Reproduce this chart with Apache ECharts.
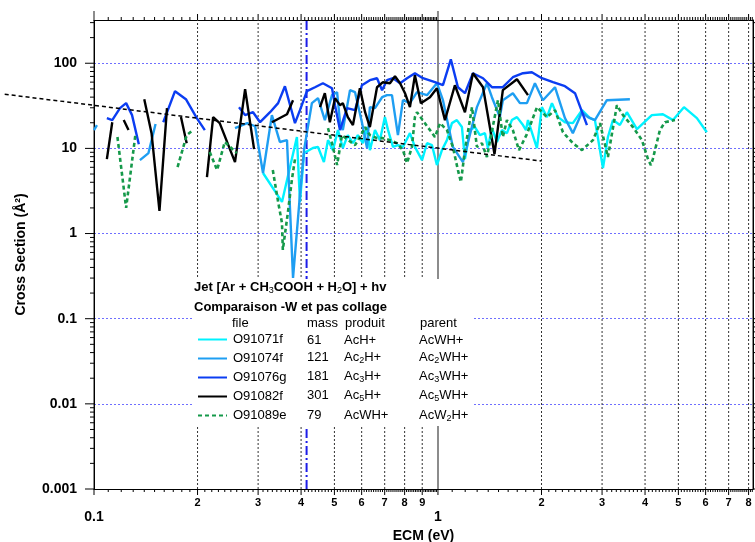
<!DOCTYPE html>
<html><head><meta charset="utf-8">
<script src="https://cdn.jsdelivr.net/npm/echarts@6/dist/echarts.min.js"></script>
<style>html,body{margin:0;padding:0;background:#fff}#c{width:755px;height:542px}</style>
</head><body><div id="c"></div>
<script>
// ---------------- data (ECM in eV, cross section in Å²) ----------------
const X_MIN = 0.1, X_MAX = 8.24, Y_MIN = 0.001, Y_MAX = 322;

const xMajorValues = [0.1, 1];
const xMajorLabels = ['0.1', '1'];
const xMinorValues = [0.2,0.3,0.4,0.5,0.6,0.7,0.8,0.9,2,3,4,5,6,7,8];
const xMinorLabels = ['2','3','4','5','6','7','8','9','2','3','4','5','6','7','8'];
const yMajorValues = [0.001, 0.01, 0.1, 1, 10, 100];
const yMajorLabels = ['0.001', '0.01', '0.1', '1', '10', '100'];

const seriesNames = ['O91071f', 'O91074f', 'O91076g', 'O91082f', 'O91089e'];

const cyanPts = [[0.310,5.14],[0.352,2.35],[0.389,13.6],[0.397,2.35],[0.408,8.81],[0.433,10.1],[0.448,10.4],[0.466,6.91],[0.479,12.5],[0.495,9.55],[0.512,16.4],[0.529,10.1],[0.547,14.3],[0.566,11.5],[0.585,14.3],[0.605,11.5],[0.622,17.8],[0.634,9.55],[0.656,16.4],[0.678,12.5],[0.701,23.3],[0.716,16.4],[0.740,10.4],[0.765,10.9],[0.791,10.4],[0.829,15.1],[0.857,10.4],[0.899,7.29],[0.929,11.5],[0.961,10.9],[0.993,6.37],[1.027,9.55],[1.062,12.5],[1.098,19.8],[1.135,21.5],[1.174,17.8],[1.198,7.50],[1.239,16.4],[1.281,17.8],[1.324,14.3],[1.370,15.1],[1.397,10.1],[1.435,17.3],[1.484,11.9],[1.534,16.4],[1.587,15.1],[1.640,21.5],[1.697,23.3],[1.767,18.8],[1.803,16.4],[1.827,21.5],[1.940,10.1],[2.005,30.5],[2.075,23.3],[2.145,34.0],[2.234,23.3],[2.340,20.3],[2.467,19.8],[2.622,28.1],[2.767,22.7],[2.860,21.5],[3.018,5.88],[3.120,13.6],[3.227,21.5],[3.380,18.8],[3.542,26.6],[3.789,16.8],[4.187,24.6],[4.508,25.2],[4.823,21.5],[5.19,30.5],[5.66,22.7],[6.05,15.5]];

const lightBluePts = [[0.100,16.4],[0.102,18.8],null,
 [0.136,7.29],[0.144,8.81],[0.151,19.3],null,
 [0.257,17.3],[0.279,19.8],[0.294,18.2],[0.310,5.14],[0.329,24.6],[0.347,11.9],[0.364,12.5],[0.379,0.302],[0.397,2.84],[0.408,9.55],[0.430,34.0],[0.448,38.9],[0.469,21.5],[0.492,42.2],[0.509,45.7],[0.519,20.3],[0.529,16.4],[0.555,48.3],[0.574,45.7],[0.601,20.3],[0.622,10.1],[0.634,30.5],[0.656,29.7],[0.688,39.9],[0.711,42.2],[0.735,42.2],[0.765,14.3],[0.791,36.8],[0.829,34.0],[0.869,45.7],[0.929,42.2],[0.993,58.3],[1.034,36.8],[1.105,10.4],[1.182,6.91],[1.298,30.5],[1.388,58.3],[1.435,39.9],[1.513,23.3],[1.544,36.8],[1.651,44.5],[1.731,34.0],[1.814,34.0],[1.914,58.3],[2.019,36.8],[2.189,52.3],[2.340,22.7],[2.467,15.1],[2.622,26.6],[2.729,23.3],[2.860,21.5],[3.098,36.8],[3.614,37.8]];

const bluePts = [[0.109,22.7],[0.113,21.5],[0.119,29.7],[0.124,34.0],[0.129,24.6],[0.135,11.2],null,
 [0.159,20.3],[0.172,47.0],[0.185,37.8],[0.199,22.7],[0.210,16.4],null,
 [0.264,30.5],[0.275,24.6],[0.290,26.6],[0.304,20.3],[0.325,26.6],[0.343,34.0],[0.359,53.7],[0.384,19.8],[0.397,28.1],[0.416,47.0],[0.439,52.3],[0.463,58.3],[0.492,50.9],[0.502,32.2],[0.519,16.4],[0.544,29.7],[0.574,28.1],[0.601,55.2],[0.634,63.2],[0.665,66.7],[0.688,48.3],[0.711,63.2],[0.740,66.7],[0.776,58.3],[0.813,66.7],[0.857,76.4],[0.904,66.7],[0.980,59.9],[1.034,55.2],[1.090,111],[1.143,52.3],[1.198,44.5],[1.264,76.4],[1.352,66.7],[1.435,52.3],[1.544,52.3],[1.651,68.5],[1.767,76.4],[1.875,78.5],[2.005,66.7],[2.160,59.9],[2.340,53.7],[2.503,44.5],[2.711,18.8]];

const blackPts = [[0.109,7.49],[0.113,20.3],null,
 [0.122,21.5],[0.126,16.4],null,
 [0.140,37.8],[0.147,15.1],[0.155,1.84],[0.163,29.7],null,
 [0.179,23.3],[0.186,11.5],null,
 [0.213,4.61],[0.222,23.3],[0.232,19.8],[0.257,6.91],[0.275,49.6],[0.292,9.8],null,
 [0.329,20.3],[0.364,25.2],[0.379,36.8],null,
 [0.454,30.5],[0.469,44.5],[0.485,20.3],[0.502,38.9],[0.519,32.2],[0.529,34.0],[0.547,23.3],[0.566,18.8],[0.593,50.9],[0.614,26.6],[0.634,17.8],[0.665,52.3],[0.692,59.9],[0.725,58.3],[0.750,70.4],[0.776,58.3],[0.802,44.5],[0.829,30.5],[0.857,72.3],[0.892,34.0],[0.948,39.9],[0.993,50.9],[1.048,21.5],[1.120,55.2],[1.198,26.6],[1.264,76.4],[1.352,52.3],[1.46,8.6],[1.544,48.3],[1.697,64.9],[1.827,42.2]];

const greenPts = [[0.117,13.6],[0.124,2.00],[0.132,14.7],null,
 [0.175,6.04],[0.186,14.3],[0.194,16.4],null,
 [0.217,9.05],[0.228,5.57],[0.240,11.9],[0.260,8.81],null,
 [0.331,5.57],[0.343,2.35],[0.352,1.33],[0.354,0.643],[0.366,1.74],[0.376,4.25],[0.384,7.50],null,
 [0.479,17.3],[0.495,10.4],[0.509,6.37],[0.526,14.3],[0.574,10.9],[0.593,13.6],[0.614,17.8],[0.634,14.3],[0.665,13.2],[0.692,13.2],[0.725,12.5],[0.760,11.5],[0.791,9.55],[0.813,6.73],[0.840,10.4],[0.857,23.3],[0.869,26.6],[0.980,13.6],[1.014,19.8],[1.062,16.4],[1.105,10.4],[1.143,5.57],[1.166,4.03],[1.198,9.55],[1.256,30.5],[1.298,10.4],[1.342,11.5],[1.388,7.91],[1.494,36.8],[1.544,13.6],[1.587,21.5],[1.651,16.4],[1.720,9.55],[1.814,14.7],[1.940,30.5],[2.075,23.3],[2.189,28.1],[2.309,15.5],[2.467,11.5],[2.622,9.55],[2.822,12.5],[2.958,19.8],[3.120,7.91],[3.313,32.2],[3.451,24.6],[3.689,17.8],[3.918,12.5],[4.079,7.50],[4.159,6.37],[4.214,7.50],[4.418,16.4],[4.570,20.3],[4.887,21.5]];

const trendPts = [[0.055,43.3],[2.0,7.1]];
const markerX = 0.415;

const legendMass = ['61','121','181','301','79'];
const legendProduit = ['AcH+','Ac{s|2}H+','Ac{s|3}H+','Ac{s|5}H+','AcWH+'];
const legendParent = ['AcWH+','Ac{s|2}WH+','Ac{s|3}WH+','Ac{s|5}WH+','AcW{s|2}H+'];

// ---------------- helpers ----------------
const FONT = 'Arial, "Liberation Sans", sans-serif';
const toData = pts => pts.map(p => p ? p : ['-', '-']);
const matchLabel = (v, vals, labels) => {
  for (let i = 0; i < vals.length; i++) if (Math.abs(v / vals[i] - 1) < 1e-6) return labels[i];
  return '';
};

// tick lists (axis decoration)
const xTickData = [];
xMajorValues.forEach(v => xTickData.push([v, 1, 0]));
xMinorValues.forEach(v => xTickData.push([v, 1, 1]));
for (let d = 0.1; d < 5; d *= 10) {
  for (let k = 11; k < 100; k++) {
    if (k % 10 === 0) continue;
    const v = +(k * d / 10).toFixed(4);
    if (v < X_MAX) xTickData.push([v, 1, 2]);
  }
}
const yTickData = [];
yMajorValues.forEach(v => yTickData.push([1, v, 0]));
for (let e = -3; e <= 2; e++) for (let k = 2; k <= 9; k++) {
  const v = k * Math.pow(10, e);
  if (v < Y_MAX) yTickData.push([1, v, 1]);
}

const colors = ['#00F2FF', '#1E9EF2', '#0B3DF2', '#000000', '#15994A'];
const ptsList = [cyanPts, lightBluePts, bluePts, blackPts, greenPts];

const dataSeries = seriesNames.map((n, i) => ({
  name: n, type: 'line', data: toData(ptsList[i]), symbol: 'none', showSymbol: false,
  connectNulls: false, z: 5 + i,
  lineStyle: { color: colors[i], width: i === 4 ? 2.6 : 2.4, type: i === 4 ? [4, 3] : 'solid' },
  itemStyle: { color: colors[i] }
}));

const chart = echarts.init(document.getElementById('c'), null, { renderer: 'canvas' });

const richSub = { s: { fontSize: 9, padding: [7, 0, 0, 0], fontFamily: FONT } };
const graphics = [
  { type: 'rect', shape: { x: 193, y: 279, width: 280, height: 147 }, style: { fill: '#fff' }, z: 50 },
  { type: 'text', x: 194, y: 287, z: 60, style: { text: 'Jet [Ar + CH{s|3}COOH + H{s|2}O] + hv', font: 'bold 13px ' + FONT, fill: '#000', verticalAlign: 'middle', rich: richSub } },
  { type: 'text', x: 194, y: 307, z: 60, style: { text: 'Comparaison -W et pas collage', font: 'bold 13px ' + FONT, fill: '#000', verticalAlign: 'middle' } },
  { type: 'text', x: 232, y: 323, z: 60, style: { text: 'file', font: '13px ' + FONT, fill: '#000', verticalAlign: 'middle' } },
  { type: 'text', x: 307, y: 323, z: 60, style: { text: 'mass', font: '13px ' + FONT, fill: '#000', verticalAlign: 'middle' } },
  { type: 'text', x: 345, y: 323, z: 60, style: { text: 'produit', font: '13px ' + FONT, fill: '#000', verticalAlign: 'middle' } },
  { type: 'text', x: 420, y: 323, z: 60, style: { text: 'parent', font: '13px ' + FONT, fill: '#000', verticalAlign: 'middle' } }
];
const rowY = [340, 357.5, 376, 395.5, 415];
for (let i = 0; i < 5; i++) {
  graphics.push({ type: 'text', x: 307, y: rowY[i], z: 60, style: { text: legendMass[i], font: '13px ' + FONT, fill: '#000', verticalAlign: 'middle' } });
  graphics.push({ type: 'text', x: 344, y: rowY[i], z: 60, style: { text: legendProduit[i], font: '13px ' + FONT, fill: '#000', verticalAlign: 'middle', rich: richSub } });
  graphics.push({ type: 'text', x: 419, y: rowY[i], z: 60, style: { text: legendParent[i], font: '13px ' + FONT, fill: '#000', verticalAlign: 'middle', rich: richSub } });
}

const option = {
  animation: false,
  backgroundColor: '#fff',
  grid: { left: 94, right: 2, top: 20, bottom: 53, containLabel: false, outerBoundsMode: 'none' },
  legend: {
    data: seriesNames, orient: 'vertical', left: 197, top: 333, padding: 0,
    itemWidth: 29, itemHeight: 14, itemGap: 6, z: 70,
    itemStyle: { opacity: 0 },
    textStyle: { fontSize: 13, color: '#000', fontFamily: FONT, padding: [0, 0, 0, 1] },
    selectedMode: false
  },
  xAxis: [
    { type: 'log', logBase: 10, min: X_MIN, max: X_MAX, position: 'bottom',
      axisLine: { lineStyle: { color: '#000', width: 1 } }, axisTick: { show: false },
      axisLabel: { formatter: v => matchLabel(v, xMajorValues, xMajorLabels), fontWeight: 'bold', fontSize: 14, color: '#000', margin: 21, fontFamily: FONT, showMaxLabel: false },
      splitLine: { show: true, lineStyle: { color: '#8c8c8c', width: 2 } },
      name: 'ECM (eV)', nameLocation: 'middle', nameGap: 39,
      nameTextStyle: { fontWeight: 'bold', fontSize: 14, color: '#000', fontFamily: FONT } },
    { type: 'log', logBase: 10, min: X_MIN, max: X_MAX, position: 'top',
      axisLine: { lineStyle: { color: '#000', width: 1 } }, axisTick: { show: false },
      axisLabel: { show: false }, splitLine: { show: false } }
  ],
  yAxis: [
    { type: 'log', logBase: 10, min: Y_MIN, max: Y_MAX, position: 'left',
      axisLine: { show: true, lineStyle: { color: '#000', width: 1 } }, axisTick: { show: false },
      axisLabel: { formatter: v => matchLabel(v, yMajorValues, yMajorLabels), fontWeight: 'bold', fontSize: 14, color: '#000', margin: 17, fontFamily: FONT, showMaxLabel: false },
      splitLine: { show: true, lineStyle: { color: '#6f6fff', width: 1, type: [2, 2] } },
      name: 'Cross Section (Å²)', nameLocation: 'middle', nameGap: 66, nameRotate: 90,
      nameTextStyle: { fontWeight: 'bold', fontSize: 14, color: '#000', fontFamily: FONT } },
    { type: 'log', logBase: 10, min: Y_MIN, max: Y_MAX, position: 'right',
      axisLine: { show: true, lineStyle: { color: '#000', width: 1 } }, axisTick: { show: false },
      axisLabel: { show: false }, splitLine: { show: false } }
  ],
  graphic: graphics,
  series: [
    { name: 'xticks', type: 'custom', xAxisIndex: 0, yAxisIndex: 0, data: xTickData, z: 1, silent: true, clip: false,
      encode: { x: 0, y: 1 },
      renderItem: (params, api) => {
        const v = api.value(0), kind = api.value(2);
        const b = api.coord([v, Y_MIN]), t = api.coord([v, Y_MAX]);
        const lb = kind === 0 ? 6 : kind === 1 ? 6 : 3;
        const lt = kind === 0 ? 9 : kind === 1 ? 6 : 3;
        const ch = [
          { type: 'line', shape: { x1: b[0], y1: b[1], x2: b[0], y2: b[1] + lb }, style: { stroke: '#000', lineWidth: 1 } },
          { type: 'line', shape: { x1: t[0], y1: t[1], x2: t[0], y2: t[1] - lt }, style: { stroke: kind === 0 ? '#8c8c8c' : '#000', lineWidth: kind === 0 ? 2 : 1 } }
        ];
        if (kind === 1) {
          ch.push({ type: 'line', shape: { x1: b[0], y1: b[1], x2: t[0], y2: t[1] }, style: { stroke: '#333', lineWidth: 1, lineDash: [2, 2] } });
          const lbl = matchLabel(v, xMinorValues, xMinorLabels);
          ch.push({ type: 'text', x: b[0], y: b[1] + 14, style: { text: lbl, fill: '#000', font: 'bold 11px ' + FONT, align: 'center', verticalAlign: 'middle' } });
        }
        return { type: 'group', children: ch };
      } },
    { name: 'yticks', type: 'custom', xAxisIndex: 0, yAxisIndex: 0, data: yTickData, z: 1, silent: true, clip: false,
      encode: { x: 0, y: 1 },
      renderItem: (params, api) => {
        const v = api.value(1), kind = api.value(2);
        const l = api.coord([X_MIN, v]), r = api.coord([X_MAX, v]);
        const ll = kind === 0 ? 9 : 4, lr = kind === 0 ? 6 : 3;
        return { type: 'group', children: [
          { type: 'line', shape: { x1: l[0], y1: l[1], x2: l[0] - ll, y2: l[1] }, style: { stroke: '#000', lineWidth: 1 } },
          { type: 'line', shape: { x1: r[0], y1: r[1], x2: r[0] + lr, y2: r[1] }, style: { stroke: '#000', lineWidth: 1 } }
        ] };
      } },
    { name: 'marker', type: 'line', data: [[markerX, Y_MIN], [markerX, Y_MAX]], symbol: 'none', z: 3, silent: true,
      lineStyle: { color: '#1d1de8', width: 2, type: [9, 3, 2, 3] } },
    ...dataSeries,
    { name: 'trend', type: 'custom', xAxisIndex: 0, yAxisIndex: 0, clip: false, z: 12, silent: true,
      data: [[trendPts[0][0], trendPts[0][1], trendPts[1][0], trendPts[1][1]]],
      encode: { x: 0, y: 1 },
      renderItem: (params, api) => {
        const p1 = api.coord([api.value(0), api.value(1)]);
        const p2 = api.coord([api.value(2), api.value(3)]);
        return { type: 'line', shape: { x1: p1[0], y1: p1[1], x2: p2[0], y2: p2[1] },
          style: { stroke: '#000', lineWidth: 1.5, lineDash: [4, 3] } };
      } }
  ]
};
chart.setOption(option);
</script></body></html>
